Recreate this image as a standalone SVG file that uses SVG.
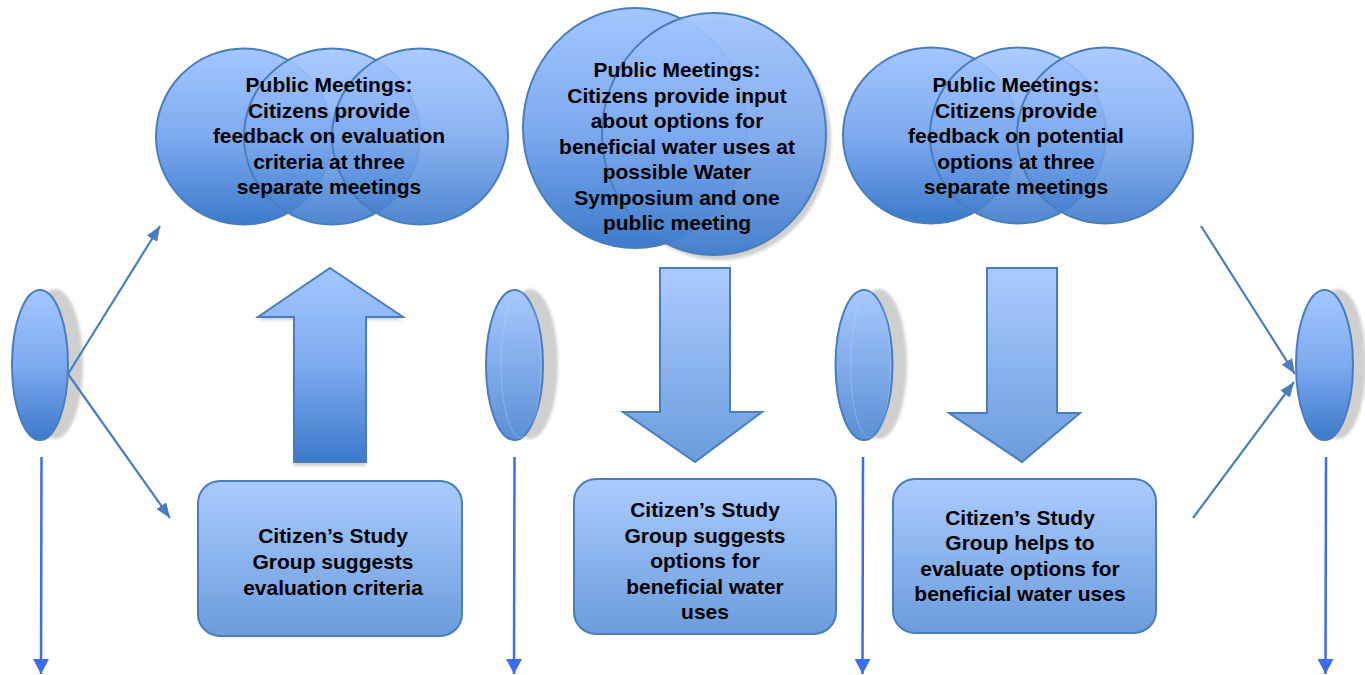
<svg xmlns="http://www.w3.org/2000/svg" width="1365" height="675" viewBox="0 0 1365 675">
<defs>
<linearGradient id="gDark" x1="0" y1="0" x2="0" y2="1">
<stop offset="0" stop-color="#a3c6ff"/>
<stop offset="0.5" stop-color="#7eaaf0"/>
<stop offset="1" stop-color="#3c7acb"/>
</linearGradient>
<linearGradient id="gLight" x1="0" y1="0" x2="0" y2="1">
<stop offset="0" stop-color="#abcbff"/>
<stop offset="1" stop-color="#6b9cdc"/>
</linearGradient>
<linearGradient id="gMid" x1="0" y1="0" x2="0" y2="1">
<stop offset="0" stop-color="#a8c9ff"/>
<stop offset="1" stop-color="#5b8fd6"/>
</linearGradient>
<marker id="ah" viewBox="0 0 10 10" refX="10" refY="5" markerWidth="15" markerHeight="12" preserveAspectRatio="none" orient="auto" markerUnits="userSpaceOnUse">
<path d="M0,0 L10,5 L0,10 z" fill="#4a7ebb"/>
</marker>
<marker id="ahBlue" viewBox="0 0 10 10" refX="10" refY="5" markerWidth="15" markerHeight="16" preserveAspectRatio="none" orient="auto" markerUnits="userSpaceOnUse">
<path d="M0,0 L10,5 L0,10 z" fill="#3a6cf4"/>
</marker>
<filter id="blur" x="-20%" y="-20%" width="140%" height="140%"><feGaussianBlur stdDeviation="1.5"/></filter>
</defs>
<style>
.shape{stroke:#4a7ebb;stroke-width:2}
.dark{fill:url(#gDark)}
.light{fill:url(#gLight)}
.mid{fill:url(#gMid)}
.shadow{fill:#cfcfcf;filter:url(#blur)}
.t{font-family:"Liberation Sans",Arial,sans-serif;font-weight:bold;font-size:21px;fill:#000;text-anchor:middle}
.conn{stroke:#4a7ebb;stroke-width:2.2;fill:none}
.down{stroke:#3a6cf4;stroke-width:2.5;fill:none}
</style>
<rect width="1365" height="675" fill="#ffffff"/>

<g id="ellipse1">
<ellipse class="shadow" cx="55" cy="364" rx="28" ry="75"/>
<ellipse class="shape dark" cx="40" cy="365" rx="28" ry="75"/>
</g>
<g id="ellipse2">
<ellipse class="shadow" cx="530" cy="364" rx="28" ry="75"/>
<ellipse class="shape mid" cx="514.5" cy="365" rx="28.5" ry="75"/>
<ellipse cx="521" cy="365" rx="20" ry="73" fill="none" stroke="#c4d9ff" stroke-opacity="0.35" stroke-width="1"/>
</g>
<g id="ellipse3">
<ellipse class="shadow" cx="879" cy="364" rx="28" ry="75"/>
<ellipse class="shape mid" cx="864" cy="365" rx="28.5" ry="75"/>
<ellipse cx="870.5" cy="365" rx="20" ry="73" fill="none" stroke="#c4d9ff" stroke-opacity="0.35" stroke-width="1"/>
</g>
<g id="ellipse4">
<ellipse class="shadow" cx="1338" cy="364" rx="28" ry="75"/>
<ellipse class="shape dark" cx="1324.5" cy="365" rx="28.5" ry="75"/>
</g>

<g id="meetings1">
<circle class="shape dark" cx="244" cy="136.5" r="88"/>
<circle class="shape dark" cx="332" cy="136.5" r="88" fill-opacity="0.9"/>
<circle class="shape dark" cx="420" cy="136.5" r="88" fill-opacity="0.9"/>
<text class="t"><tspan x="329" y="92">Public Meetings:</tspan><tspan x="329" y="117.5">Citizens provide</tspan><tspan x="329" y="143">feedback on evaluation</tspan><tspan x="329" y="168.5">criteria at three</tspan><tspan x="329" y="194">separate meetings</tspan></text>
</g>

<g id="meetings2">
<ellipse class="shadow" cx="719" cy="139" rx="112" ry="121"/>
<ellipse class="shape dark" cx="635" cy="128" rx="112" ry="120"/>
<ellipse class="shape dark" cx="714" cy="134" rx="112" ry="121" fill-opacity="0.92"/>
<text class="t"><tspan x="677" y="77">Public Meetings:</tspan><tspan x="677" y="102.5">Citizens provide input</tspan><tspan x="677" y="128">about options for</tspan><tspan x="677" y="153.5">beneficial water uses at</tspan><tspan x="677" y="179">possible Water</tspan><tspan x="677" y="204.5">Symposium and one</tspan><tspan x="677" y="230">public meeting</tspan></text>
</g>

<g id="meetings3">
<circle class="shape dark" cx="931" cy="135.5" r="88"/>
<circle class="shape dark" cx="1018" cy="135.5" r="88" fill-opacity="0.9"/>
<circle class="shape dark" cx="1105" cy="135.5" r="88" fill-opacity="0.9"/>
<text class="t"><tspan x="1016" y="92">Public Meetings:</tspan><tspan x="1016" y="117.5">Citizens provide</tspan><tspan x="1016" y="143">feedback on potential</tspan><tspan x="1016" y="168.5">options at three</tspan><tspan x="1016" y="194">separate meetings</tspan></text>
</g>

<g id="arrowUp">
<path class="shadow" d="M330,271 L403,320 L366,320 L366,466 L294,466 L294,320 L258,320 Z"/>
<path class="shape dark" d="M330,268 L403,317 L366,317 L366,462 L294,462 L294,317 L258,317 Z"/>
</g>
<g id="arrowDown1">
<path class="shape light" d="M660,268 L730,268 L730,412 L762,412 L695,462 L623,412 L660,412 Z"/>
</g>
<g id="arrowDown2">
<path class="shape light" d="M987,268 L1057,268 L1057,413 L1080,413 L1022,462 L949,413 L987,413 Z"/>
</g>

<g id="box1">
<rect class="shape light" x="198" y="481" width="264" height="155" rx="22"/>
<text class="t"><tspan x="333" y="543">Citizen’s Study</tspan><tspan x="333" y="569">Group suggests</tspan><tspan x="333" y="595">evaluation criteria</tspan></text>
</g>
<g id="box2">
<rect class="shape light" x="574" y="479" width="262" height="155" rx="22"/>
<text class="t"><tspan x="705" y="517">Citizen’s Study</tspan><tspan x="705" y="543">Group suggests</tspan><tspan x="705" y="568">options for</tspan><tspan x="705" y="594">beneficial water</tspan><tspan x="705" y="619">uses</tspan></text>
</g>
<g id="box3">
<rect class="shape light" x="893" y="479" width="263" height="154" rx="22"/>
<text class="t"><tspan x="1020" y="525">Citizen’s Study</tspan><tspan x="1020" y="550">Group helps to</tspan><tspan x="1020" y="576">evaluate options for</tspan><tspan x="1020" y="601">beneficial water uses</tspan></text>
</g>

<g id="connectors">
<line class="conn" x1="68" y1="374" x2="160" y2="226" marker-end="url(#ah)"/>
<line class="conn" x1="68" y1="374" x2="170" y2="518" marker-end="url(#ah)"/>
<line class="conn" x1="1201" y1="226" x2="1295" y2="374" marker-end="url(#ah)"/>
<line class="conn" x1="1193" y1="518" x2="1294" y2="382" marker-end="url(#ah)"/>
<line class="down" x1="41.5" y1="457" x2="41" y2="674" marker-end="url(#ahBlue)"/>
<line class="down" x1="514.5" y1="457" x2="514" y2="674" marker-end="url(#ahBlue)"/>
<line class="down" x1="863" y1="457" x2="862.5" y2="674" marker-end="url(#ahBlue)"/>
<line class="down" x1="1326" y1="457" x2="1325.5" y2="674" marker-end="url(#ahBlue)"/>
</g>
</svg>
